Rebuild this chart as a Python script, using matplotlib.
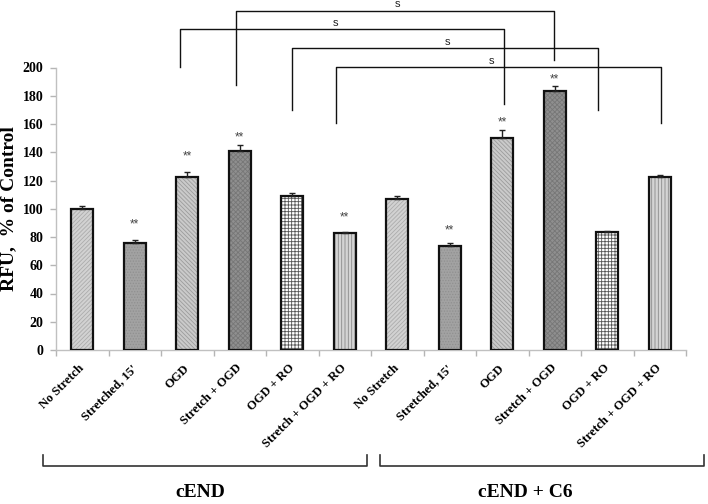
import matplotlib
matplotlib.use("Agg")
import matplotlib.pyplot as plt
import matplotlib.transforms as mtransforms
import numpy as np

# ---------------- data ----------------
conditions = ["No Stretch", "Stretched, 15'", "OGD", "Stretch + OGD",
              "OGD + RO", "Stretch + OGD + RO"]
groups = ["cEND", "cEND + C6"]
values_cend = [100, 75.5, 122.7, 140.8, 109, 82.6]
errors_cend = [2.0, 2.3, 3.6, 4.6, 2.0, 0.6]
values_c6 = [106.7, 73.6, 150.2, 183.2, 83.2, 122.8]
errors_c6 = [2.2, 2.5, 5.8, 3.6, 0.7, 1.3]
# height (in data units) of the "**" marks, None = no mark
stars_cend = [None, 91, 139, 152.7, None, 96]
stars_c6 = [None, 86.6, 162.8, 193.5, None, None]
yticks = [0, 20, 40, 60, 80, 100, 120, 140, 160, 180, 200]

# significance brackets: (left x, right x, top y, left leg bottom, right leg bottom, label x)
brackets = [
    (2.93, 8.99, 240.2, 187.6, 205.3, 6.01),
    (1.86, 8.04, 227.0, 200.6, 174.0, 4.83),
    (4.00, 9.83, 213.6, 169.9, 169.9, 6.96),
    (4.83, 11.02, 200.4, 160.5, 160.5, 7.80),
]

# ---------------- style ----------------
styles = [
    dict(face="#d2d2d2", hatch="////////", hc="#acacac"),
    dict(face="#a2a2a2", hatch="......", hc="#909090"),
    dict(face="#cacaca", hatch="\\\\\\\\\\\\\\\\", hc="#9c9c9c"),
    dict(face="#8f8f8f", hatch="xxxxxxx", hc="#777777"),
    dict(face="#ffffff", hatch="+++++", hc="#555555"),
    dict(face="#d4d4d4", hatch="|||||", hc="#8a8a8a"),
]

plt.rcParams["hatch.linewidth"] = 0.6
serif = ["Liberation Serif", "DejaVu Serif"]
sans = ["Liberation Sans", "DejaVu Sans"]

values = values_cend + values_c6
errors = errors_cend + errors_c6
stars = stars_cend + stars_c6
labels = conditions + conditions
x = np.arange(len(values))

fig = plt.figure(figsize=(7.08, 5.04), dpi=100)
ax = fig.add_axes([56 / 708, 1 - 350 / 504, 630 / 708, 282.5 / 504])

width = 0.41
for i in range(len(values)):
    st = styles[i % 6]
    ax.bar(x[i], values[i], width, color=st["face"], edgecolor="none", zorder=2)
    ax.bar(x[i], values[i], width, color="none", edgecolor=st["hc"], hatch=st["hatch"],
           linewidth=0, zorder=3)
    ax.bar(x[i], values[i], width, color="none", edgecolor="#111111", linewidth=1.6, zorder=4)
ax.errorbar(x, values, yerr=[np.zeros(len(errors)), errors], fmt="none",
            ecolor="#222222", elinewidth=1.0, capsize=2.5, capthick=1.0, zorder=5)

for i in range(len(values)):
    if stars[i] is not None:
        ax.text(x[i], stars[i] - 2, "**", ha="center", va="center",
                fontsize=8.5, color="#444444", family=sans)

ax.set_xlim(-0.5, 11.5)
ax.set_ylim(0, 200)
ax.set_yticks(yticks)
ax.set_yticklabels([str(t) for t in yticks], fontsize=10, fontweight="bold", family=serif)
ax.set_xticks(np.arange(-0.5, 12, 1.0))
ax.set_xticklabels([])
ax.tick_params(axis="both", colors="#b5b5b5", length=4.5, width=1.0, direction="out")
ax.tick_params(axis="y", labelcolor="black", pad=4.5)
for s in ["top", "right"]:
    ax.spines[s].set_visible(False)
for s in ["left", "bottom"]:
    ax.spines[s].set_color("#c0c0c0")
    ax.spines[s].set_linewidth(1.0)

ax.set_ylabel("RFU,  % of Control", fontsize=14, fontweight="bold", family=serif)
ax.yaxis.set_label_coords(-0.061, 0.5)

# rotated category labels
offset = mtransforms.ScaledTranslation(-4 / 100, -12 / 100, fig.dpi_scale_trans)
for i, lab in enumerate(labels):
    ax.text(x[i], 0, lab, rotation=45, ha="right", va="top", rotation_mode="anchor",
            fontsize=9, fontweight="bold", family=serif,
            transform=ax.transData + offset)

# significance brackets
for (xl, xr, ytop, yl, yr, xlab) in brackets:
    ax.plot([xl, xl, xr, xr], [yl, ytop, ytop, yr], color="#111111", lw=1.0,
            clip_on=False, zorder=6)
    ax.text(xlab, ytop + 1.0, "s", ha="center", va="bottom", fontsize=8,
            color="#222222", family=sans, clip_on=False)

# group brackets below
trans = mtransforms.blended_transform_factory(ax.transData, ax.transAxes)
group_spans = [(-0.753, 5.43), (5.67, 11.84)]
group_label_x = [2.24, 8.43]
for (gl, gr), gx, gname in zip(group_spans, group_label_x, groups):
    ax.plot([gl, gl, gr, gr], [-0.3717, -0.4106, -0.4106, -0.3717], color="#333333",
            lw=1.2, transform=trans, clip_on=False)
    ax.text(gx, -0.506, gname, ha="center", va="center", fontsize=14, fontweight="bold",
            family=serif, transform=trans)

fig.savefig("out.png", dpi=100)
